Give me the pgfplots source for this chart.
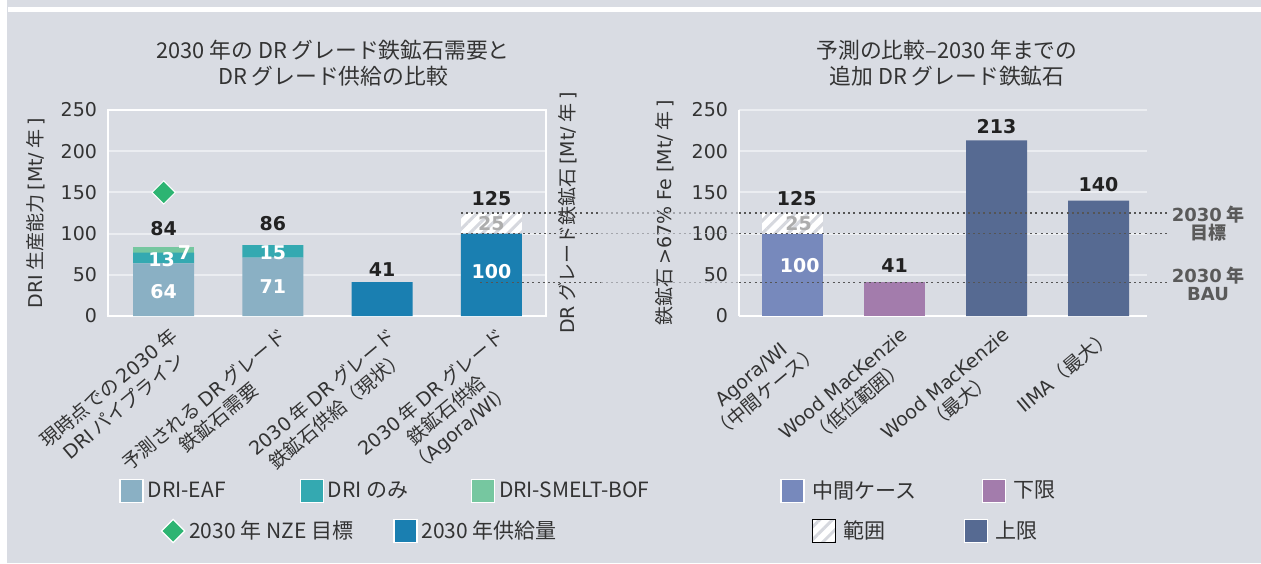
\documentclass[border=0pt]{standalone}
\usepackage{fontspec}
\setmainfont{Noto Sans CJK JP}
\newfontfamily\vd{DejaVu Sans}
\usepackage{pgfplots}
\pgfplotsset{compat=1.18}
\usetikzlibrary{patterns.meta}
\definecolor{bg}{HTML}{D9DCE3}
\definecolor{gridc}{HTML}{EBEDF1}
\definecolor{txt}{HTML}{333333}
\definecolor{val}{HTML}{222222}
\definecolor{eaf}{HTML}{8AB0C4}
\definecolor{onlyc}{HTML}{34A9B1}
\definecolor{smelt}{HTML}{76C7A0}
\definecolor{nze}{HTML}{2DB472}
\definecolor{supply}{HTML}{1A7FB1}
\definecolor{midc}{HTML}{7789BC}
\definecolor{lowc}{HTML}{A37CAC}
\definecolor{upc}{HTML}{566A92}
\definecolor{hatchc}{HTML}{D6D8DE}
\definecolor{refc}{HTML}{555555}
\definecolor{refl}{HTML}{A4A6AC}
\definecolor{lab}{HTML}{5A5A5A}
\newcommand{\lt}[1]{{\vd #1}}
\tikzset{
  vlab/.style={font=\vd\bfseries\fontsize{9.5}{10}\selectfont, text=val},
  wlab/.style={font=\vd\bfseries\fontsize{9.5}{10}\selectfont, text=white},
  glab/.style={font=\vd\bfseries\fontsize{9.5}{10}\selectfont, text=black!32},
  dots/.style={refc, dash pattern=on 1pt off 1.6pt, line width=0.7pt},
  dotsl/.style={refl, dash pattern=on 1pt off 1.6pt, line width=0.7pt},
}
\pgfplotsset{
  dummy/.style={at={(0pt,0pt)}, anchor=south west, scale only axis,
    width=630.5pt, height=281.5pt, hide axis, xmin=0, xmax=1, ymin=0, ymax=1,
    legend style={draw=none, fill=none, inner sep=0pt, anchor=west,
      nodes={inner sep=2pt, font=\fontsize{10.5}{12}\selectfont, text=txt}}},
  sq/.style={legend image code/.code={\draw[fill=#1, draw=white, line width=0.6pt] (0pt,-5.75pt) rectangle (11.5pt,5.75pt);}},
  dia/.style={legend image code/.code={\draw[fill=#1, draw=white, line width=0.6pt] (5.75pt,-5.8pt) -- (11.55pt,0pt) -- (5.75pt,5.8pt) -- (-0.05pt,0pt) -- cycle;}},
  hat/.style={legend image code/.code={\draw[fill=white, draw=white, line width=0.6pt] (0pt,-5.75pt) rectangle (11.5pt,5.75pt);
     \fill[pattern={Lines[angle=45,distance=4.5pt,line width=1.5pt]}, pattern color=hatchc] (0pt,-5.75pt) rectangle (11.5pt,5.75pt);}},
  mainax/.style={scale only axis, height=103pt, ymin=0, ymax=250,
    ytick={0,50,...,250}, xtick={0,1,2,3},
    ybar stacked, bar width=30.5pt,
    axis line style={white, line width=1pt},
    major tick length=0pt,
    ymajorgrids, grid style={gridc, line width=1pt},
    /pgf/number format/assume math mode=true,
    yticklabel style={font=\vd\fontsize{9.5}{10}\selectfont, text=txt, xshift=-2pt},
    xticklabel style={font=\fontsize{9.5}{11.5}\selectfont, text=txt, rotate=40, anchor=north east, align=center, yshift=-2pt, xshift=2pt},
    ylabel style={font=\fontsize{9.5}{11}\selectfont, text=txt, anchor=center},
    clip=false},
}
\begin{document}
\begin{tikzpicture}
\useasboundingbox (0pt,0pt) rectangle (630.5pt,281.5pt);
\fill[white] (0pt,0pt) rectangle (630.5pt,281.5pt);
\fill[bg] (3.5pt,0pt) rectangle (630.5pt,281.5pt);
\fill[white] (4pt,275.5pt) rectangle (630.5pt,278.2pt);

% titles
\node[align=center, font=\fontsize{10.9}{12.8}\selectfont, text=txt] at (166.5pt,250pt)
  {2030 年の DR グレード鉄鉱石需要と\\DR グレード供給の比較};
\node[align=center, font=\fontsize{10.9}{12.8}\selectfont, text=txt] at (473.5pt,250pt)
  {予測の比較–2030 年までの\\追加 DR グレード鉄鉱石};

% left axis
\begin{axis}[mainax, at={(54pt,123.5pt)}, anchor=south west, width=219pt,
  xmin=-0.51, xmax=3.5,
  xticklabels={{現時点での \lt{2030} 年\\\lt{DRI} パイプライン},
               {予測される \lt{DR} グレード\\鉄鉱石需要},
               {\lt{2030} 年 \lt{DR} グレード\\鉄鉱石供給（現状）},
               {\lt{2030} 年 \lt{DR} グレード\\鉄鉱石供給\\（\lt{Agora/WI}）}},
  ylabel={\lt{DRI} 生産能力 \lt{[Mt/} 年 \lt{]}},
  ylabel style={at={(axis description cs:-0.164,0.5)}},
]
\addplot[fill=eaf, draw=none] coordinates {(0,64) (1,71) (2,0) (3,0)};
\addplot[fill=onlyc, draw=none] coordinates {(0,13) (1,15) (2,0) (3,0)};
\addplot[fill=smelt, draw=none] coordinates {(0,7) (1,0) (2,0) (3,0)};
\addplot[fill=supply, draw=none] coordinates {(0,0) (1,0) (2,41) (3,100)};
\addplot[fill=white, draw=none, postaction={pattern={Lines[angle=45,distance=4.5pt,line width=1.5pt]}, pattern color=hatchc}]
  coordinates {(0,0) (1,0) (2,0) (3,25)};
\addplot[stack plots=false, sharp plot, only marks, mark=square*, mark size=4.1pt,
  mark options={rotate=45, fill=nze, draw=white, line width=0.5pt}] coordinates {(0,150)};
\coordinate (La125) at (axis cs:2.72,125);
\coordinate (La100) at (axis cs:2.72,100);
\coordinate (La41) at (axis cs:2.9,41);
\coordinate (A125) at (axis cs:4.0,125);
\coordinate (A100) at (axis cs:4.0,100);
\coordinate (A41) at (axis cs:4.0,41);
\coordinate (v84) at (axis cs:0,105.6);
\coordinate (v86) at (axis cs:1,111.7);
\coordinate (v41) at (axis cs:2,56.6);
\coordinate (v125) at (axis cs:3,142);
\coordinate (v64) at (axis cs:0,29.5);
\coordinate (v13) at (axis cs:-0.02,68);
\coordinate (v7) at (axis cs:0.19,76.5);
\coordinate (v71) at (axis cs:1,35.6);
\coordinate (v15) at (axis cs:1,76.8);
\coordinate (v100) at (axis cs:3,53.8);
\coordinate (v25) at (axis cs:3,111.6);
\node[rotate=90, font=\fontsize{9.5}{11}\selectfont, text=txt] at (axis description cs:1.05,0.5)
  {\lt{DR} グレード鉄鉱石 \lt{[Mt/} 年 \lt{]}};
\end{axis}

% right axis
\begin{axis}[mainax, at={(369.5pt,123.5pt)}, anchor=south west, width=204pt,
  xmin=-0.525, xmax=3.475,
  axis x line*=bottom, axis y line*=left,
  xticklabels={{\lt{Agora/WI}\\（中間ケース）},
               {\lt{Wood MacKenzie}\\（低位範囲）},
               {\lt{Wood MacKenzie}\\（最大）},
               {\lt{IIMA}（最大）}},
  ylabel={鉄鉱石 \lt{>67\% Fe [Mt/} 年 \lt{]}},
  ylabel style={at={(axis description cs:-0.181,0.5)}},
]
\addplot[fill=midc, draw=none] coordinates {(0,100) (1,0) (2,0) (3,0)};
\addplot[fill=white, draw=none, postaction={pattern={Lines[angle=45,distance=4.5pt,line width=1.5pt]}, pattern color=hatchc}]
  coordinates {(0,25) (1,0) (2,0) (3,0)};
\addplot[fill=lowc, draw=none] coordinates {(0,0) (1,41) (2,0) (3,0)};
\addplot[fill=upc, draw=none] coordinates {(0,0) (1,0) (2,213) (3,140)};
\coordinate (B125) at (axis cs:-0.525,125);
\coordinate (B100) at (axis cs:-0.525,100);
\coordinate (B41) at (axis cs:-0.525,41);
\coordinate (Re125) at (axis cs:3.706,125);
\coordinate (Re100) at (axis cs:3.706,100);
\coordinate (Re41) at (axis cs:3.706,41);
\coordinate (r125) at (axis cs:0.04,142);
\coordinate (r25) at (axis cs:0.06,111.6);
\coordinate (r100) at (axis cs:0.07,61);
\coordinate (r41) at (axis cs:1,61);
\coordinate (r213) at (axis cs:2,229.6);
\coordinate (r140) at (axis cs:3,160);
\end{axis}

% reference lines
\draw[dots] (La125) -- (A125);
\draw[dots] (La100) -- (A100);
\draw[dots] (La41) -- (A41);
\draw[dotsl] (A125) -- (B125);
\draw[dotsl] (A100) -- (B100);
\draw[dotsl] (A41) -- (B41);
\draw[dots] (B125) -- (Re125);
\draw[dots] (B100) -- (Re100);
\draw[dots] (B41) -- (Re41);

% value labels
\node[vlab] at (v84) {84};
\node[vlab] at (v86) {86};
\node[vlab] at (v41) {41};
\node[vlab] at (v125) {125};
\node[wlab] at (v64) {64};
\node[wlab] at (v13) {13};
\node[wlab] at (v7) {7};
\node[wlab] at (v71) {71};
\node[wlab] at (v15) {15};
\node[wlab] at (v100) {100};
\node[glab] at (v25) {25};
\node[vlab] at (r125) {125};
\node[glab] at (r25) {25};
\node[wlab] at (r100) {100};
\node[vlab] at (r41) {41};
\node[vlab] at (r213) {213};
\node[vlab] at (r140) {140};

\node[align=center, font=\bfseries\fontsize{9}{9}\selectfont, text=lab] at (604pt,169.5pt)
  {\lt{2030} 年\\目標};
\node[align=center, font=\bfseries\fontsize{9}{9}\selectfont, text=lab] at (604pt,139.5pt)
  {\lt{2030} 年\\\lt{BAU}};

% legends
\begin{axis}[dummy, legend columns=3, legend style={at={(axis description cs:0.0944,0.1279)}}]
\addlegendimage{sq=eaf}\addlegendentry{\makebox[74pt][l]{DRI-EAF}}
\addlegendimage{sq=onlyc}\addlegendentry{\makebox[69.5pt][l]{DRI のみ}}
\addlegendimage{sq=smelt}\addlegendentry{\makebox[70pt][l]{DRI-SMELT-BOF}}
\end{axis}
\begin{axis}[dummy, legend columns=2, legend style={at={(axis description cs:0.1273,0.05684)}}]
\addlegendimage{dia=nze}\addlegendentry{\makebox[100pt][l]{2030 年 NZE 目標}}
\addlegendimage{sq=supply}\addlegendentry{\makebox[60pt][l]{2030 年供給量}}
\end{axis}
\begin{axis}[dummy, legend columns=2, legend style={at={(axis description cs:0.6186,0.1279)}}]
\addlegendimage{sq=midc}\addlegendentry{\makebox[84.5pt][l]{\hspace{2pt}中間ケース}}
\addlegendimage{sq=lowc}\addlegendentry{\makebox[40pt][l]{\hspace{2pt}下限}}
\end{axis}
\begin{axis}[dummy, legend columns=2, legend style={at={(axis description cs:0.6432,0.05684)}}]
\addlegendimage{hat=white}\addlegendentry{\makebox[60pt][l]{\hspace{2pt}範囲}}
\addlegendimage{sq=upc}\addlegendentry{\makebox[40pt][l]{\hspace{2pt}上限}}
\end{axis}
\end{tikzpicture}
\end{document}
